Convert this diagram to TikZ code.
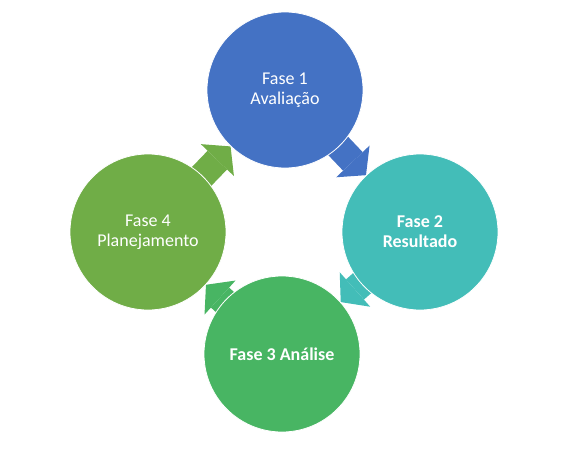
\documentclass[tikz,border=0pt]{standalone}
\usepackage{fontspec}
\setmainfont{Carlito}
\usepackage{xcolor}
\usetikzlibrary{arrows.meta}
\pgfdeclarelayer{background}
\pgfsetlayers{background,main}
\definecolor{faseblue}{HTML}{4472C4}
\definecolor{faseteal}{HTML}{43BDB8}
\definecolor{fasegreen}{HTML}{48B563}
\definecolor{faseolive}{HTML}{70AD47}
\tikzset{
phase/.style={
circle,
draw=white,
line width=0.8pt,
minimum size=156pt,
inner sep=0pt,
align=center,
text=white,
font=\fontsize{18}{20}\selectfont
},
cyclearrow/.style={
line width=27pt,
-{Triangle[length=19pt,width=46pt,line width=0pt]}
}
}

\begin{document}
\begin{tikzpicture}[x=1pt,y=-1pt]
\useasboundingbox (0,0) rectangle (587,455);
\node[phase,fill=faseblue](f1) at (285,90){Fase 1\\Avaliação};
\node[phase,fill=faseteal,font=\fontsize{18}{20}\selectfont\bfseries](f2) at (420,232){Fase 2\\Resultado};
\node[phase,fill=fasegreen,font=\fontsize{18}{20}\selectfont\bfseries](f3) at (282,354){Fase 3 Análise};
\node[phase,fill=faseolive](f4) at (148,232){Fase 4\\Planejamento};

\begin{pgfonlayer}{background}
\foreach \x/\y/\c in {f1/f2/faseblue,f2/f3/faseteal,f3/f4/fasegreen,f4/f1/faseolive}
\draw[cyclearrow,\c](\x.center)--(\y);
\end{pgfonlayer}
\end{tikzpicture}
\end{document}
